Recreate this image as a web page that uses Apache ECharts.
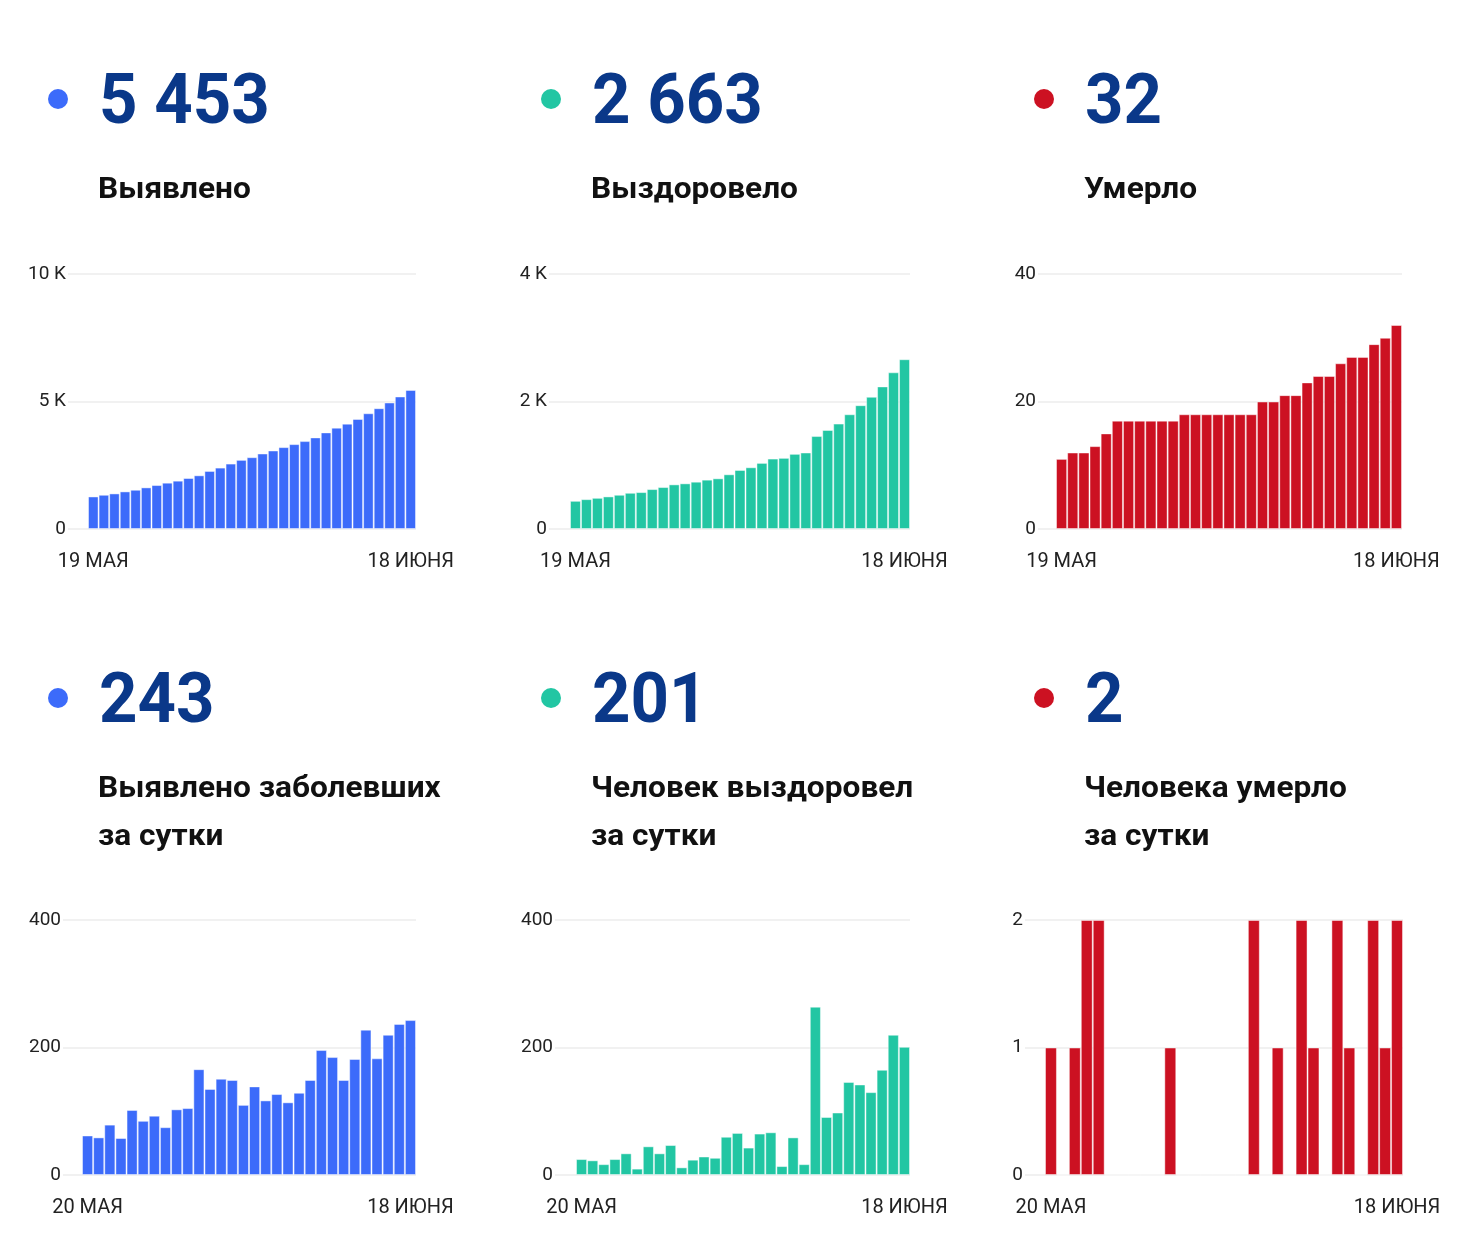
<!DOCTYPE html>
<html lang="ru">
<head>
<meta charset="utf-8">
<title>Коронавирус</title>
<style>
  html, body { margin: 0; padding: 0; background: #fff; }
  #main { width: 1482px; height: 1254px; }
</style>
<script src="https://cdn.jsdelivr.net/npm/echarts@6/dist/echarts.min.js"></script>
</head>
<body>
<div id="main"></div>
<script>
// данные
var totalTicks = ['19 МАЯ', '18 ИЮНЯ'];
var dailyTicks = ['20 МАЯ', '18 ИЮНЯ'];

var totalCases = [1276, 1342, 1395, 1474, 1539, 1632, 1724, 1816, 1895, 2000, 2105, 2276, 2408, 2566, 2711, 2816,
    2961, 3079, 3211, 3329, 3447, 3592, 3789, 3974, 4132, 4316, 4539, 4737, 4961, 5197, 5453];
var totalRecovered = [442, 468, 489, 511, 537, 568, 579, 626, 658, 700, 716, 742, 774, 795, 858, 926,
    968, 1037, 1105, 1116, 1179, 1200, 1458, 1553, 1653, 1800, 1942, 2074, 2237, 2458, 2663];
var totalDeaths = [11, 12, 12, 13, 15, 17, 17, 17, 17, 17, 17, 18, 18, 18, 18, 18,
    18, 18, 20, 20, 21, 21, 23, 24, 24, 26, 27, 27, 29, 30, 32];

var dailyCases = [62, 59, 79, 58, 102, 85, 93, 75, 103, 105, 166, 135, 151, 149, 110, 139,
    117, 127, 114, 129, 149, 196, 185, 149, 182, 228, 183, 220, 237, 243];
var dailyRecovered = [25, 23, 17, 25, 34, 10, 45, 34, 47, 12, 24, 29, 27, 60, 66, 43,
    65, 67, 14, 59, 17, 264, 91, 98, 146, 142, 130, 165, 220, 201];
var dailyDeaths = [1, 0, 1, 2, 2, 0, 0, 0, 0, 0, 1, 0, 0, 0, 0, 0,
    0, 2, 0, 1, 0, 2, 1, 0, 2, 1, 0, 2, 1, 2];

var bigNumbers = ['5 453', '2 663', '32', '243', '201', '2'];
var captions = ['Выявлено', 'Выздоровело', 'Умерло',
    'Выявлено заболевших\nза сутки', 'Человек выздоровел\nза сутки', 'Человека умерло\nза сутки'];

var BLUE = '#3c6bfa', GREEN = '#22c6a3', RED = '#cc1122';
var NAVY = '#0a3889';
var FONT = 'Roboto, "Noto Sans", sans-serif';

var panels = [
    { data: totalCases, ticks: totalTicks, color: BLUE, max: 10000, interval: 5000, col: 0, row: 0,
      grid: { left: 68, width: 348, top: 274, height: 255 }, pad: 20 },
    { data: totalRecovered, ticks: totalTicks, color: GREEN, max: 4000, interval: 2000, col: 1, row: 0,
      grid: { left: 549, width: 361, top: 274, height: 255 }, pad: 21 },
    { data: totalDeaths, ticks: totalTicks, color: RED, max: 40, interval: 20, col: 2, row: 0,
      grid: { left: 1038, width: 364, top: 274, height: 255 }, pad: 18 },
    { data: dailyCases, ticks: dailyTicks, color: BLUE, max: 400, interval: 200, col: 0, row: 1,
      grid: { left: 63, width: 353, top: 920, height: 255 }, pad: 19 },
    { data: dailyRecovered, ticks: dailyTicks, color: GREEN, max: 400, interval: 200, col: 1, row: 1,
      grid: { left: 555, width: 355, top: 920, height: 255 }, pad: 21 },
    { data: dailyDeaths, ticks: dailyTicks, color: RED, max: 2, interval: 1, col: 2, row: 1,
      grid: { left: 1025, width: 378, top: 920, height: 255 }, pad: 20 }
];

var colX = [58, 551, 1044];
var rowY = [99, 698];

var grids = [], xAxes = [], yAxes = [], series = [], graphics = [];

panels.forEach(function (p, i) {
    var n = p.data.length;
    var barW = (p.grid.width - p.pad) / n;
    grids.push(p.grid);
    xAxes.push({
        type: 'value',
        gridIndex: i,
        min: -0.5 - p.pad / barW,
        max: n - 0.5,
        axisLine: { show: false },
        axisTick: { show: false },
        splitLine: { show: false },
        axisLabel: {
            customValues: [0, n - 1],
            margin: 23,
            fontSize: 20,
            fontFamily: FONT,
            color: '#222',
            formatter: function (v) { return v === 0 ? p.ticks[0] : p.ticks[1]; }
        }
    });
    yAxes.push({
        type: 'value',
        gridIndex: i,
        min: 0,
        max: p.max,
        interval: p.interval,
        axisLine: { show: false },
        axisTick: { show: false },
        splitLine: { lineStyle: { color: '#ececec', width: 1.5 } },
        axisLabel: {
            margin: 2,
            fontSize: 19,
            fontFamily: FONT,
            color: '#222',
            formatter: function (v) { return v >= 1000 ? (v / 1000) + ' K' : v; }
        }
    });
    series.push({
        type: 'bar',
        xAxisIndex: i,
        yAxisIndex: i,
        barCategoryGap: '0%',
        barWidth: barW,
        itemStyle: { color: p.color, borderColor: 'rgba(255,255,255,0.45)', borderWidth: 1 },
        data: p.data.map(function (v, k) { return [k, v]; })
    });

    var cx = colX[p.col], cy = rowY[p.row];
    graphics.push({
        type: 'circle',
        shape: { cx: cx, cy: cy, r: 10 },
        style: { fill: p.color }
    });
    graphics.push({
        type: 'text',
        x: cx + 41,
        y: cy + 6,
        scaleX: 0.945,
        style: {
            text: bigNumbers[i],
            fontSize: 71,
            fontWeight: 'bold',
            fontFamily: FONT,
            fill: NAVY,
            verticalAlign: 'middle'
        }
    });
    graphics.push({
        type: 'text',
        x: cx + 40,
        y: cy + 67,
        scaleX: 1.055,
        style: {
            text: captions[i],
            fontSize: 30,
            fontWeight: 'bold',
            fontFamily: FONT,
            fill: '#111',
            lineHeight: 48,
            verticalAlign: 'top'
        }
    });
});

var chart = echarts.init(document.getElementById('main'));
chart.setOption({
    animation: false,
    grid: grids,
    xAxis: xAxes,
    yAxis: yAxes,
    series: series,
    graphic: graphics
});
</script>
</body>
</html>
